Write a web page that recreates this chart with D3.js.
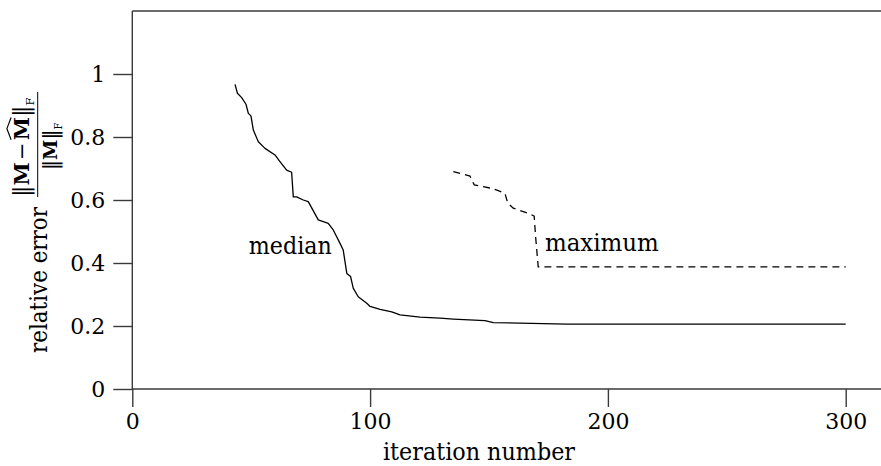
<!DOCTYPE html>
<html>
<head>
<meta charset="utf-8">
<script src="https://cdn.jsdelivr.net/npm/d3@7"></script>
<style>
  html, body { margin: 0; padding: 0; background: #fff; }
  svg { display: block; }
  svg text { font-family: "DejaVu Serif", "Liberation Serif", "Times New Roman", serif; fill: #000; }
</style>
</head>
<body>
<svg id="chart" width="881" height="466"></svg>
<script>
// ---- data ----
const medianIter = [43.2, 44.2, 46.0, 47.8, 48.8, 49.9, 50.9, 53.0, 55.8, 60.0, 62.1, 64.9, 67.0, 67.7, 69.1, 71.9, 74.0, 78.2, 82.4, 84.5, 87.3, 88.7, 90.2, 91.8, 92.9, 95.0, 98.6, 100.0, 104.2, 109.1, 112.6, 121.0, 129.4, 135.0, 148.3, 151.8, 182.7, 300];
const medianErr  = [0.967, 0.939, 0.925, 0.904, 0.875, 0.867, 0.822, 0.785, 0.764, 0.743, 0.722, 0.695, 0.688, 0.610, 0.610, 0.600, 0.595, 0.537, 0.526, 0.505, 0.463, 0.441, 0.367, 0.357, 0.320, 0.293, 0.272, 0.262, 0.253, 0.245, 0.235, 0.228, 0.225, 0.222, 0.217, 0.211, 0.206, 0.206];
const maxIter = [135.0, 142.0, 143.8, 151.1, 153.9, 156.7, 157.9, 160.2, 166.5, 169.0, 169.6, 170.7, 300];
const maxErr  = [0.690, 0.676, 0.648, 0.637, 0.630, 0.621, 0.590, 0.574, 0.558, 0.549, 0.483, 0.388, 0.388];
const xTicks = [0, 100, 200, 300];
const xTickLabels = ["0", "100", "200", "300"];
const yTicks = [0, 0.2, 0.4, 0.6, 0.8, 1];
const yTickLabels = ["0", "0.2", "0.4", "0.6", "0.8", "1"];
const xLabel = "iteration number";
const yLabel = "relative error";
const seriesLabels = ["median", "maximum"];

// ---- drawing ----
const FONT = '"DejaVu Serif", "Liberation Serif", "Times New Roman", serif';
const W = 881, H = 466;
const svg = d3.select("#chart");
const x = d3.scaleLinear().domain([0, 300]).range([132.3, 845.7]);
const y = d3.scaleLinear().domain([0, 1.2]).range([389, 11]);
const axisColor = "#3a3a3a";

// frame
const frame = svg.append("g").attr("stroke", axisColor).attr("stroke-width", 1.4).attr("fill", "none");
frame.append("line").attr("x1", x(0)).attr("x2", W).attr("y1", y(1.2)).attr("y2", y(1.2));
frame.append("line").attr("x1", x(0)).attr("x2", x(0)).attr("y1", y(1.2)).attr("y2", y(0));
frame.append("line").attr("x1", x(0)).attr("x2", W).attr("y1", y(0)).attr("y2", y(0));

// axes
const yAxis = d3.axisLeft(y).tickValues(yTicks).tickSize(19).tickPadding(8)
  .tickFormat((d, i) => yTickLabels[i]);
const gY = svg.append("g").attr("transform", `translate(${x(0)},0)`).call(yAxis);
const xAxis = d3.axisBottom(x).tickValues(xTicks).tickSize(18).tickPadding(6)
  .tickFormat((d, i) => xTickLabels[i]);
const gX = svg.append("g").attr("transform", `translate(0,${y(0)})`).call(xAxis);
[gX, gY].forEach(g => {
  g.attr("font-family", null).attr("font-size", null);
  g.select(".domain").remove();
  g.selectAll(".tick line").attr("stroke", axisColor).attr("stroke-width", 1.4);
  g.selectAll(".tick text").style("font-family", FONT).style("font-size", "22px").attr("fill", "#000");
});

// lines
const line = d3.line().x(d => x(d[0])).y(d => y(d[1]));
svg.append("path")
  .datum(medianIter.map((v, i) => [v, medianErr[i]]))
  .attr("d", line).attr("fill", "none").attr("stroke", "#000").attr("stroke-width", 1.3)
  .attr("stroke-linejoin", "round");
svg.append("path")
  .datum(maxIter.map((v, i) => [v, maxErr[i]]))
  .attr("d", line).attr("fill", "none").attr("stroke", "#000").attr("stroke-width", 1.3)
  .attr("stroke-dasharray", "7,5");

// series labels
function label(sel, text, px, py, width) {
  return sel.append("text").attr("x", px).attr("y", py)
    .style("font-family", FONT).style("font-size", "24px")
    .attr("textLength", width).attr("lengthAdjust", "spacingAndGlyphs").text(text);
}
label(svg, seriesLabels[0], x(49.0), y(0.429), 83);
label(svg, seriesLabels[1], x(173.5), y(0.438), 114);

// x label
label(svg, xLabel, 383, 460, 192);

// y label (rotated)
const gL = svg.append("g").attr("transform", "rotate(-90)");
label(gL, yLabel, -353, 46.7, 146);

// fraction ||M - M^||_F / ||M||_F, built then fitted to a target span
function makeRow(parent, pieces, startU, targetW, baseV) {
  const outer = parent.append("g");
  const g = outer.append("g");
  let u = 0;
  const hats = [];
  pieces.forEach(p => {
    u += p.pre || 0;
    const t = g.append("text").attr("x", u).attr("y", p.sub ? 5 : 0)
      .style("font-size", (p.size || 20) + "px")
      .style("font-weight", p.bold ? "bold" : "normal")
      .style("font-family", FONT)
      .text(p.t);
    const w = t.node().getComputedTextLength();
    if (p.hat) hats.push([u, u + w]);
    u += w + (p.post || 0);
  });
  hats.forEach(([a, b]) => {
    g.append("path").attr("d", `M${a + 0.5},-17 L${(a + b) / 2},-21 L${b - 0.5},-17`)
      .attr("fill", "none").attr("stroke", "#000").attr("stroke-width", 1.1);
  });
  const bb = g.node().getBBox();
  const s = targetW / bb.width;
  g.attr("transform", `scale(${s}) translate(${-bb.x},0)`);
  outer.attr("transform", `translate(${startU},${baseV})`);
}
makeRow(gL, [
  { t: "‖", size: 22 },
  { t: "M", bold: true },
  { t: "−", pre: 2, post: 2 },
  { t: "M", bold: true, hat: true },
  { t: "‖", size: 22 },
  { t: "F", sub: true, size: 11 }
], -197, 100, 29);
makeRow(gL, [
  { t: "‖", size: 22 },
  { t: "M", bold: true },
  { t: "‖", size: 22 },
  { t: "F", sub: true, size: 11 }
], -170, 48, 57);
gL.append("line").attr("x1", -197).attr("x2", -92)
  .attr("y1", 37.7).attr("y2", 37.7).attr("stroke", "#000").attr("stroke-width", 1);
</script>
</body>
</html>
